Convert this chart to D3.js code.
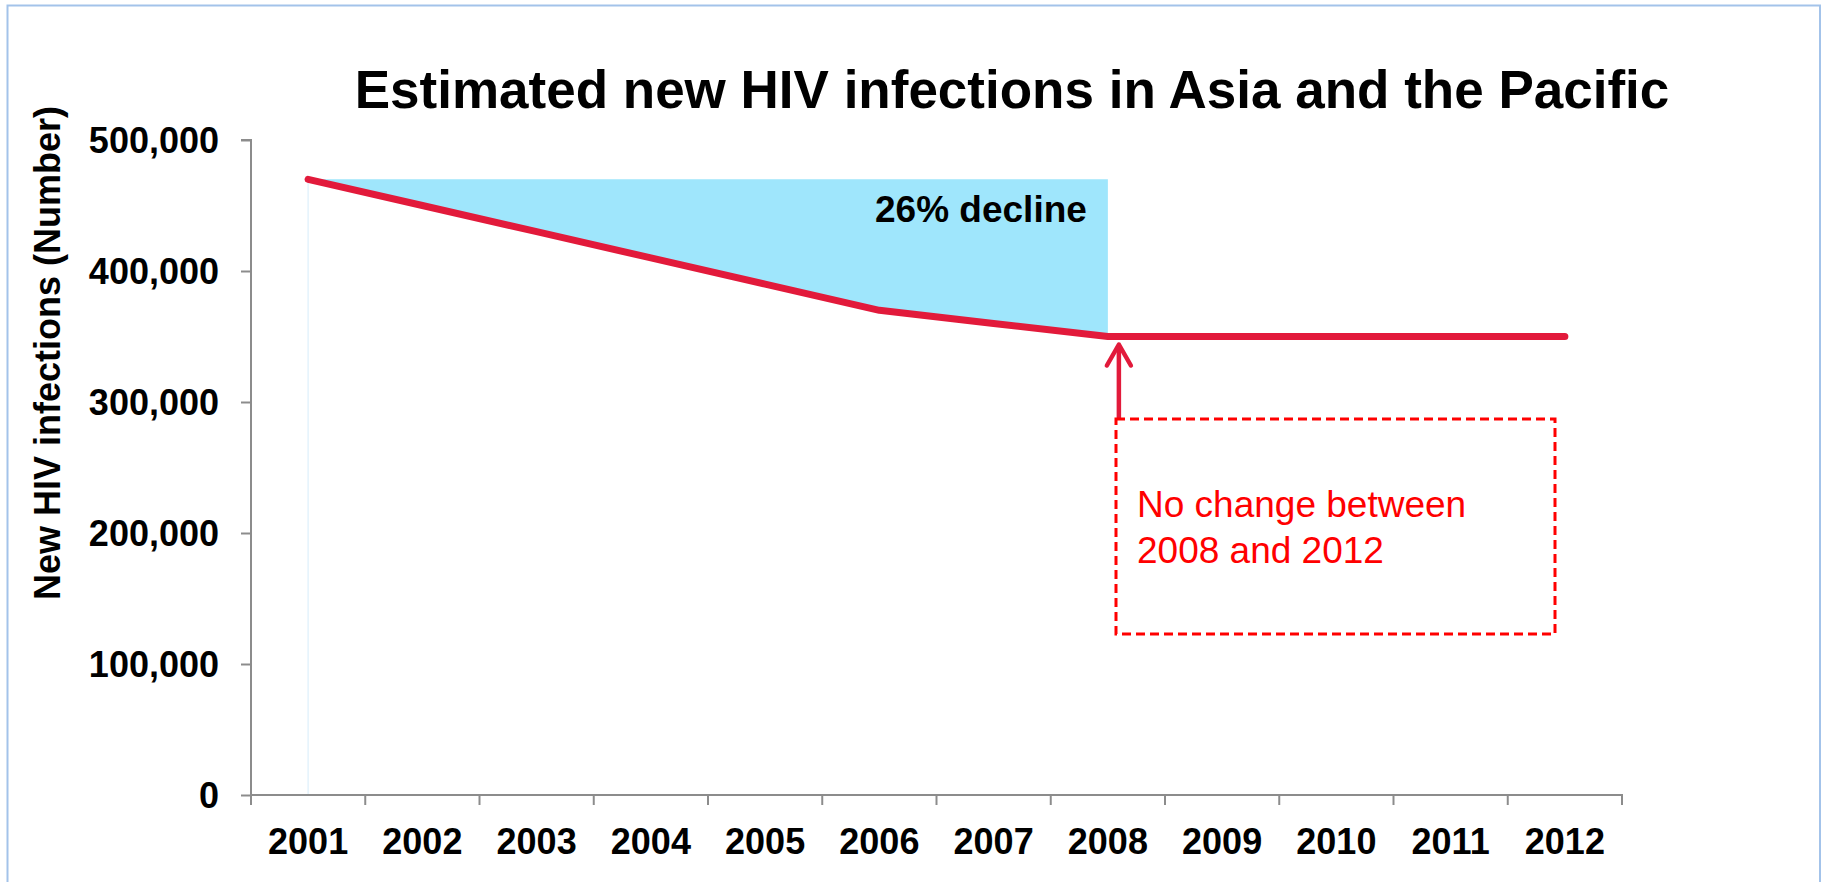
<!DOCTYPE html>
<html>
<head>
<meta charset="utf-8">
<script src="https://cdn.jsdelivr.net/npm/d3@7"></script>
<style>
  html, body { margin: 0; padding: 0; background: #fff; }
  svg { display: block; }
  text { font-family: "Liberation Sans", Arial, Helvetica, sans-serif; }
</style>
</head>
<body>
<svg id="chart" width="1821" height="882"></svg>
<script>
// ---- data ----
const years = ["2001","2002","2003","2004","2005","2006","2007","2008","2009","2010","2011","2012"];
const newInfections = [470000, 450000, 430000, 410000, 390000, 370000, 360000, 350000, 350000, 350000, 350000, 350000];
const yTicks = [0, 100000, 200000, 300000, 400000, 500000];
const declineStart = "2001";
const declineEnd = "2008";
const titleText = "Estimated new HIV infections in Asia and the Pacific";
const yAxisTitle = "New HIV infections (Number)";
const declineLabel = "26% decline";
const noteLines = ["No change between", "2008 and 2012"];

(function () {
// ---- layout ----
const plotL = 251, plotR = 1622, plotT = 140, plotB = 795;
const svg = d3.select("#chart");

// frame
svg.append("rect").attr("x", 7.5).attr("y", 5.5).attr("width", 1812.5).attr("height", 900)
  .attr("fill", "none").attr("stroke", "#a3c3ea").attr("stroke-width", 2);

const x = d3.scaleBand().domain(years).range([plotL, plotR]).paddingInner(0).paddingOuter(0);
const y = d3.scaleLinear().domain([0, 500000]).range([plotB, plotT]);
const cx = d => x(d) + x.bandwidth() / 2;

const data = years.map((yr, i) => ({ year: yr, value: newInfections[i] }));

// shaded decline area
const i0 = years.indexOf(declineStart), i1 = years.indexOf(declineEnd);
const declineData = data.slice(i0, i1 + 1);
const topVal = newInfections[i0];
svg.append("path")
  .datum(declineData)
  .attr("fill", "#9fe6fc")
  .attr("d", d3.area().x(d => cx(d.year)).y0(y(topVal)).y1(d => y(d.value)));

// faint vertical line at start
svg.append("line")
  .attr("x1", cx(declineStart)).attr("x2", cx(declineStart))
  .attr("y1", y(topVal)).attr("y2", y(0))
  .attr("stroke", "#e4f3fc").attr("stroke-width", 1.5);

// axes
const axisColor = "#8c8c8c";
const yAxis = svg.append("g").attr("transform", `translate(${plotL},0)`)
  .call(d3.axisLeft(y).tickValues(yTicks).tickSize(10).tickPadding(22)
    .tickFormat(d => d3.format(",")(d)));
yAxis.select(".domain").attr("stroke", axisColor).attr("stroke-width", 2).attr("d", `M-10,${plotT}H0V${plotB}`);
yAxis.selectAll(".tick line").attr("stroke", axisColor).attr("stroke-width", 2);
yAxis.selectAll(".tick text")
  .attr("font-size", 36).attr("font-weight", "bold").attr("fill", "#000")
  .attr("font-family", '"Liberation Sans", Arial, sans-serif').attr("dy", "0.36em");

const xAxis = svg.append("g").attr("transform", `translate(0,${plotB})`)
  .call(d3.axisBottom(x).tickSize(0).tickPadding(33));
xAxis.select(".domain").attr("stroke", axisColor).attr("stroke-width", 2).attr("d", `M${plotL},0H${plotR}V10`);
xAxis.selectAll(".tick text")
  .attr("font-size", 36).attr("font-weight", "bold").attr("fill", "#000")
  .attr("font-family", '"Liberation Sans", Arial, sans-serif');
// x tick marks at band boundaries
svg.append("g").selectAll("line").data(years).join("line")
  .attr("x1", d => x(d)).attr("x2", d => x(d))
  .attr("y1", plotB).attr("y2", plotB + 10)
  .attr("stroke", axisColor).attr("stroke-width", 2);

// main line
const lineColor = "#e21a3b";
svg.append("path")
  .datum(data)
  .attr("fill", "none").attr("stroke", lineColor).attr("stroke-width", 7)
  .attr("stroke-linecap", "round").attr("stroke-linejoin", "round")
  .attr("d", d3.line().x(d => cx(d.year)).y(d => y(d.value)));

// title
svg.append("text").attr("x", 1012).attr("y", 108).attr("text-anchor", "middle")
  .attr("font-size", 53).attr("font-weight", "bold").attr("fill", "#000").text(titleText);

// y axis title
svg.append("text").attr("transform", `translate(60,353) rotate(-90)`)
  .attr("text-anchor", "middle").attr("font-size", 36).attr("font-weight", "bold")
  .attr("fill", "#000").text(yAxisTitle);

// decline label
svg.append("text").attr("x", cx(declineEnd) - 21).attr("y", 222).attr("text-anchor", "end")
  .attr("font-size", 37).attr("font-weight", "bold").attr("fill", "#000").text(declineLabel);

// arrow
const endVal = newInfections[i1];
const ax = cx(declineEnd) + 11;
const tipY = y(endVal) + 8;
svg.append("line").attr("x1", ax).attr("x2", ax).attr("y1", 420).attr("y2", tipY + 2)
  .attr("stroke", lineColor).attr("stroke-width", 4.5);
svg.append("path")
  .attr("d", `M${ax - 12},${tipY + 21}L${ax},${tipY}L${ax + 12},${tipY + 21}`)
  .attr("fill", "none").attr("stroke", lineColor).attr("stroke-width", 4.5)
  .attr("stroke-linecap", "round").attr("stroke-linejoin", "round");

// dashed note box
svg.append("rect").attr("x", 1116).attr("y", 419).attr("width", 439).attr("height", 215)
  .attr("fill", "none").attr("stroke", "#ff0000").attr("stroke-width", 3)
  .attr("stroke-dasharray", "9,5");
svg.append("text").attr("x", 1137).attr("y", 517).attr("font-size", 37).attr("fill", "#ff0000")
  .selectAll("tspan").data(noteLines).join("tspan")
  .attr("x", 1137).attr("dy", (d, i) => i === 0 ? 0 : 45.5).text(d => d);
})();
</script>
</body>
</html>
